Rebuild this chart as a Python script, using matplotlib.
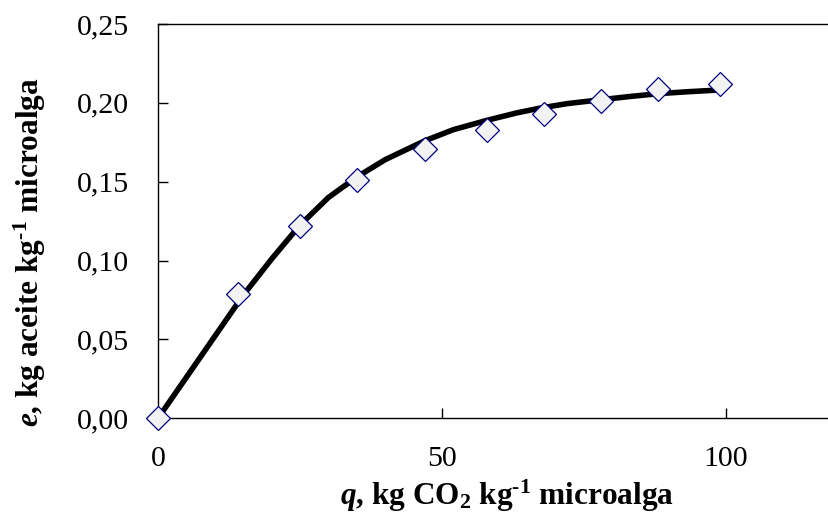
import matplotlib
matplotlib.use("Agg")
import matplotlib.pyplot as plt
from matplotlib.ticker import FuncFormatter

# experimental points
q_exp = [0, 14, 25, 35, 47, 58, 68, 78, 88, 99]
e_exp = [0.0, 0.079, 0.122, 0.151, 0.171, 0.183, 0.193, 0.201, 0.209, 0.212]

# fitted curve
q_fit = [0, 5, 10, 15, 20, 25, 30, 35, 40, 47, 52, 58, 63, 67, 72, 78, 83, 88, 93, 99]
e_fit = [0.0, 0.026, 0.052, 0.078, 0.101, 0.1225, 0.140, 0.153, 0.164, 0.176,
         0.183, 0.189, 0.1935, 0.1965, 0.1995, 0.202, 0.204, 0.2058, 0.207, 0.2082]

x_ticks = [0, 50, 100]
y_ticks = [0.0, 0.05, 0.10, 0.15, 0.20, 0.25]

plt.rcParams['font.family'] = ['Liberation Serif', 'DejaVu Serif']
plt.rcParams['mathtext.fontset'] = 'custom'
plt.rcParams['mathtext.rm'] = 'Liberation Serif'
plt.rcParams['mathtext.it'] = 'Liberation Serif:italic'
plt.rcParams['mathtext.bf'] = 'Liberation Serif:bold'
plt.rcParams['mathtext.bfit'] = 'Liberation Serif:bold:italic'

fig = plt.figure(figsize=(8.29, 5.22), dpi=100)
ax = fig.add_axes([158/829, 1-418.3/522, (839.6-158)/829, (418.3-24)/522])

ax.plot(q_fit, e_fit, color='black', lw=4.0, solid_capstyle='butt',
        solid_joinstyle='round', zorder=2)
ax.plot(q_exp, e_exp, linestyle='none', marker='D', ms=12, mfc='#F2F2F2',
        mec='#000080', mew=0.9, zorder=3, clip_on=False)

ax.set_xlim(0, 120)
ax.set_ylim(0, 0.25)
ax.set_xticks(x_ticks)
ax.set_yticks(y_ticks)
ax.yaxis.set_major_formatter(FuncFormatter(lambda v, p: f"{v:.2f}".replace('.', ',')))
ax.xaxis.set_major_formatter(FuncFormatter(lambda v, p: f"{v:.0f}"))
ax.tick_params(direction='in', length=7, width=1.0, labelsize=21.5, pad=21)
ax.tick_params(axis='x', pad=20)
for s in ax.spines.values():
    s.set_linewidth(1.0)
    s.set_color('black')

fig.text(506.5/829, 1-505/522,
         r"$\mathbfit{q}$, kg CO$_\mathbf{2}$ kg$^{\mathbf{‐1}}$ microalga",
         fontsize=22.5, fontweight='bold', ha='center', va='baseline')
fig.text(30/829, 1-252/522,
         r"$\mathbfit{e}$, kg aceite kg$^{\mathbf{‐1}}$ microalga",
         fontsize=22.5, fontweight='bold', ha='center', va='center', rotation=90)

fig.savefig("out.png", dpi=100)
